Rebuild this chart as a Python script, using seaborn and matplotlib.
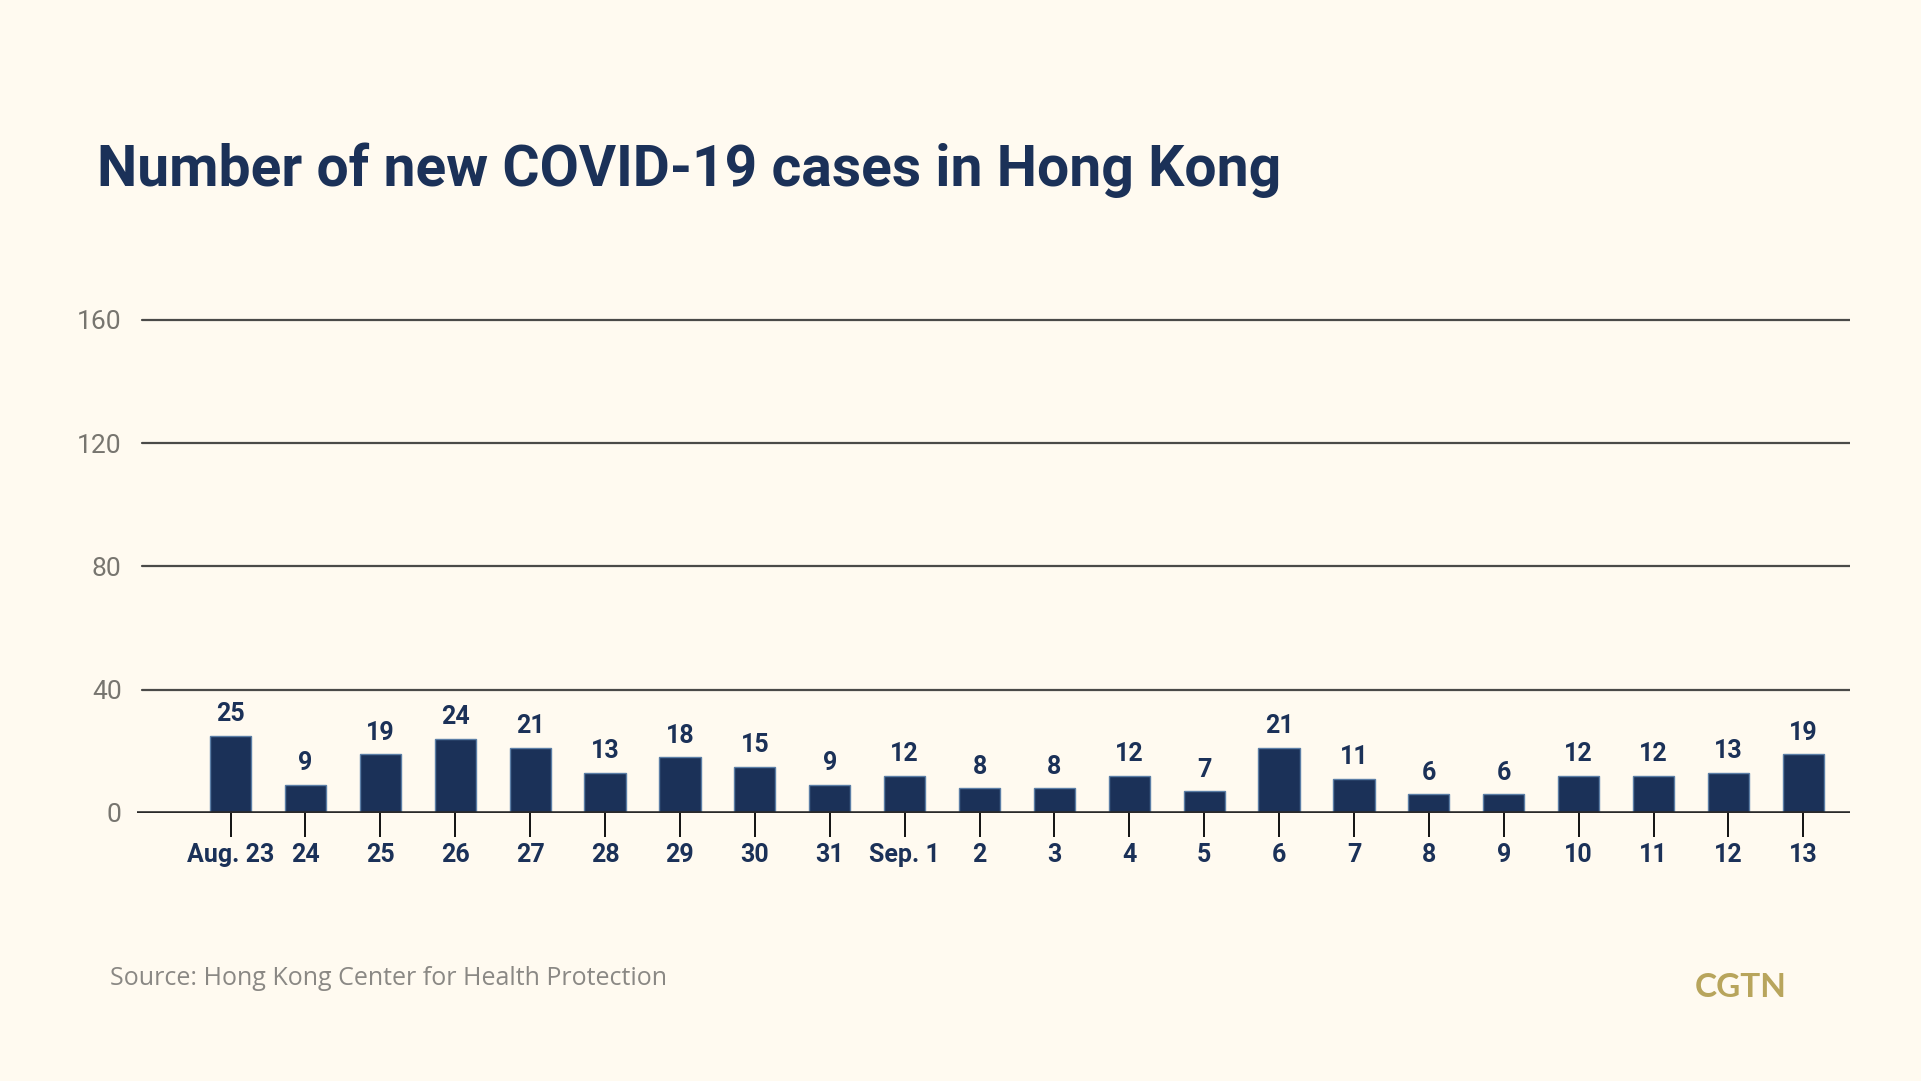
import matplotlib
matplotlib.use("Agg")
import matplotlib.pyplot as plt
import seaborn as sns
import pandas as pd

# Data
dates = ["Aug. 23", "24", "25", "26", "27", "28", "29", "30", "31", "Sep. 1",
         "2", "3", "4", "5", "6", "7", "8", "9", "10", "11", "12", "13"]
cases = [25, 9, 19, 24, 21, 13, 18, 15, 9, 12,
         8, 8, 12, 7, 21, 11, 6, 6, 12, 12, 13, 19]
y_ticks = [0, 40, 80, 120, 160]

navy = "#1b3158"
bg = "#fffaf0"

sns.set_theme(style="white")
plt.rcParams["font.family"] = ["Roboto", "DejaVu Sans"]

df = pd.DataFrame({"date": dates, "cases": cases})

fig = plt.figure(figsize=(19.21, 10.81), dpi=100, facecolor=bg)
ax = fig.add_axes([0.0713, 0.248, 0.892, 0.4617])
ax.set_facecolor(bg)

sns.barplot(data=df, x="date", y="cases", color=navy, width=0.55,
            edgecolor="#5b7ea6", linewidth=1.0, saturation=1, ax=ax)

# Value labels above bars
for cont in ax.containers:
    ax.bar_label(cont, padding=7, fontsize=18, fontweight="bold", color=navy)

ax.set_xlim(-1.25, 21.63)
ax.set_ylim(0, 162)

# Horizontal grid lines (not at zero)
for yv in y_ticks[1:]:
    ax.axhline(yv, xmin=0.003, xmax=1, color="#4a4a48", lw=1.6, zorder=0)
ax.axhline(0, color="#2a2a2a", lw=2.6, zorder=3)

ax.set_yticks(y_ticks)
ax.set_yticklabels([str(v) for v in y_ticks], fontsize=19, color="#77756f")
ax.tick_params(axis="y", length=0, pad=11)
ax.tick_params(axis="x", length=17, width=1.4, color="#111111", direction="out",
               pad=5, labelsize=18, labelcolor=navy, bottom=True)
for lbl in ax.get_xticklabels():
    lbl.set_fontweight("bold")

ax.set_xlabel("")
ax.set_ylabel("")
for s in ax.spines.values():
    s.set_visible(False)

fig.text(0.0505, 1 - 186 / 1081, "Number of new COVID-19 cases in Hong Kong",
         fontsize=41, fontweight="bold", color=navy, ha="left", va="baseline")
fig.text(110 / 1921, 1 - 985 / 1081, "Source: Hong Kong Center for Health Protection",
         fontsize=18, color="#8a8884", ha="left", va="baseline",
         family=["Open Sans", "DejaVu Sans"])
fig.text(1695 / 1921, 1 - 997 / 1081, "CGTN", fontsize=24, fontweight="bold",
         color="#b8a55c", ha="left", va="baseline", family=["Lato", "DejaVu Sans"])

fig.savefig("out.png", dpi=100, facecolor=bg)
